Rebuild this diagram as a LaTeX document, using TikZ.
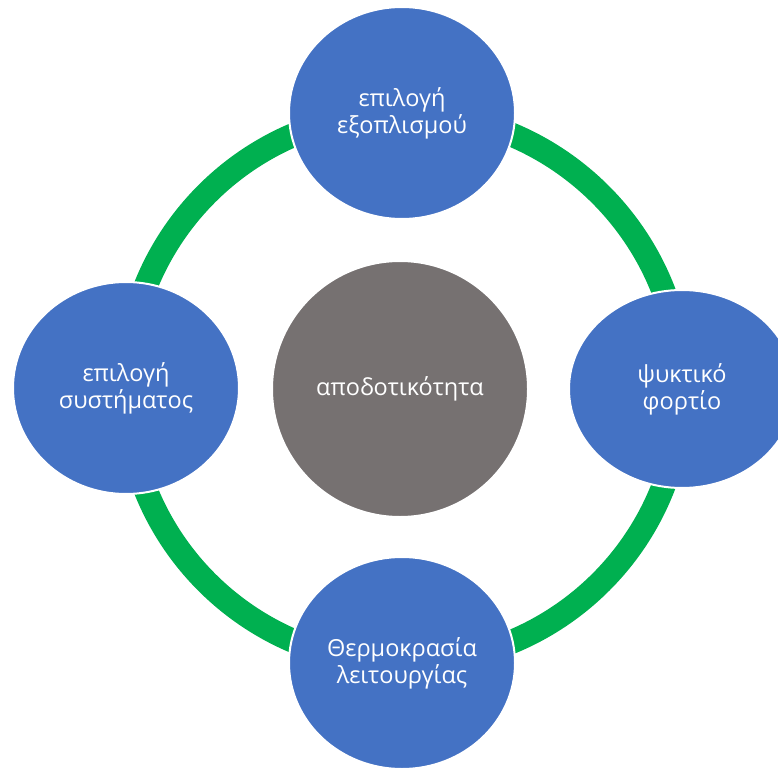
\documentclass[tikz,border=0pt]{standalone}
\usepackage{fontspec}
\setmainfont{Open Sans}
\usetikzlibrary{shapes.geometric}
\usetikzlibrary{backgrounds}
\definecolor{stepblue}{HTML}{4472C4}
\definecolor{coregray}{HTML}{767171}
\definecolor{ringgreen}{HTML}{00B050}

\begin{document}
\begin{tikzpicture}[x=1pt,y=-1pt,
  stage/.style={ellipse, fill=stepblue, draw=white, line width=2pt, minimum width=226pt, minimum height=212pt, inner sep=0pt, align=center, text=white, font=\fontsize{23.5}{27}\selectfont},
  core/.style={circle, fill=coregray, draw=white, line width=2pt, minimum size=256pt, inner sep=0pt, align=center, text=white, font=\fontsize{23.5}{27}\selectfont},
  ring/.style={draw=ringgreen, line width=24pt}]
\useasboundingbox (0,0) rectangle (778,775);
\node[core] (eff) at (400,389) {αποδοτικότητα};
\node[stage] (equip) at (402,113) {επιλογή\\εξοπλισμού};
\node[stage, minimum height=198pt] (load) at (682,389) {ψυκτικό\\φορτίο};
\node[stage] (temp) at (402,663) {Θερμοκρασία\\λειτουργίας};
\node[stage] (sys) at (126,388) {επιλογή\\συστήματος};
\begin{scope}[on background layer]
\draw[ring] (equip.center) to[bend left=45] (load.center);
\draw[ring] (load.center) to[bend left=45] (temp.center);
\draw[ring] (temp.center) to[bend left=45] (sys.center);
\draw[ring] (sys.center) to[bend left=45] (equip.center);
\end{scope}
\end{tikzpicture}
\end{document}
